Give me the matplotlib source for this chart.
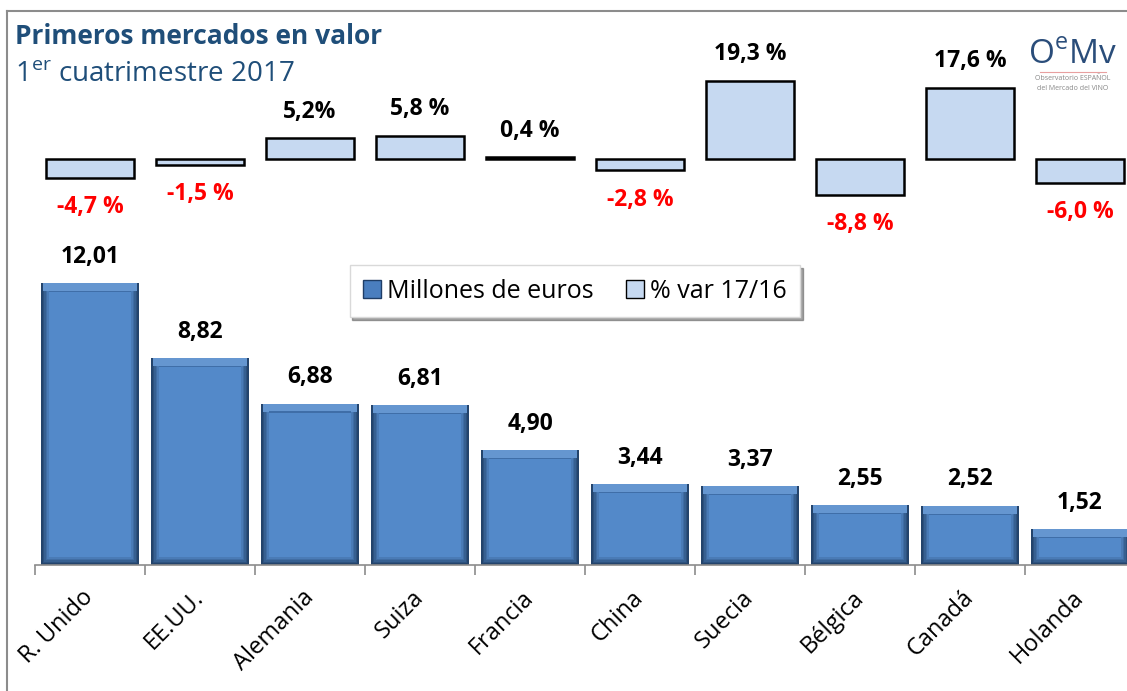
import matplotlib
matplotlib.use("Agg")
import matplotlib.pyplot as plt
from matplotlib.patches import Patch
from matplotlib.lines import Line2D
from matplotlib.colors import to_rgb
import numpy as np

plt.rcParams['font.family'] = ['Open Sans', 'DejaVu Sans']

# datos
paises = ['R. Unido', 'EE.UU.', 'Alemania', 'Suiza', 'Francia',
          'China', 'Suecia', 'Bélgica', 'Canadá', 'Holanda']
millones = [12.01, 8.82, 6.88, 6.81, 4.90, 3.44, 3.37, 2.55, 2.52, 1.52]
millones_txt = ['12,01', '8,82', '6,88', '6,81', '4,90', '3,44', '3,37', '2,55', '2,52', '1,52']
var_pct = [-4.7, -1.5, 5.2, 5.8, 0.4, -2.8, 19.3, -8.8, 17.6, -6.0]
var_txt = ['-4,7 %', '-1,5 %', '5,2%', '5,8 %', '0,4 %', '-2,8 %', '19,3 %', '-8,8 %', '17,6 %', '-6,0 %']

W, H = 1127, 691
fig = plt.figure(figsize=(W / 100, H / 100), dpi=100)
fig.patch.set_facecolor('white')

x = np.arange(len(paises))
left = 35 / W
width = 1100 / W

# --- barras principales (millones de euros) ---
ax = fig.add_axes([left, 126 / H, width, 305 / H])
ax.set_xlim(-0.5, 9.5)
ax.set_ylim(0, 13)

bw = 0.89
px_x = 1 / 110     # un pixel en unidades de x
px_y = 1 / 23.48   # un pixel en unidades de y
vals = np.array(millones)
oscuro = np.array(to_rgb('#24446c'))
cara = np.array(to_rgb('#5389c9'))
capas = 6
for k in range(capas):
    t = k / (capas - 1)
    col = oscuro * (1 - t) + cara * t
    ins = 1.6 * k
    ax.bar(x, vals - 2 * ins * px_y, bottom=ins * px_y, width=bw - 2 * ins * px_x,
           color=col, zorder=2 + k)
# bisel superior mas claro
ax.bar(x, np.full(len(x), 8 * px_y), bottom=vals - 8 * px_y, width=bw - 4 * px_x,
       color='#6596d0', zorder=9)
ax.bar(x, np.full(len(x), 1.2 * px_y), bottom=vals - 9 * px_y, width=bw - 16 * px_x,
       color='#3f6ea8', zorder=9)

for xi, v, t in zip(x, millones, millones_txt):
    ax.annotate(t, (xi, v), xytext=(0, 19), textcoords='offset points',
                ha='center', va='center', fontsize=16.5, fontweight='bold', color='black')

for s in ['left', 'top', 'right']:
    ax.spines[s].set_visible(False)
ax.spines['bottom'].set_color('#8c8c8c')
ax.spines['bottom'].set_linewidth(1.2)
ax.set_yticks([])
ax.set_xticks(x)
ax.set_xticklabels(paises, fontsize=17)
ax.tick_params(axis='x', which='major', length=0, pad=21)
ax.set_xticks(np.arange(-0.5, 10, 1), minor=True)
ax.tick_params(axis='x', which='minor', length=7, color='#8c8c8c', width=1.2)
for lab in ax.get_xticklabels():
    lab.set_rotation(45)
    lab.set_ha('right')
    lab.set_va('center')
    lab.set_rotation_mode('anchor')

# --- barras de variación (%) ---
ax2 = fig.add_axes([left, 491.5 / H, width, 129.6 / H])
ax2.set_xlim(-0.5, 9.5)
ax2.set_ylim(-10, 22)
ax2.axis('off')
ax2.bar(x, var_pct, width=0.8, color='#c6d9f1', edgecolor='black', linewidth=1.8, zorder=2)
for xi, v, t in zip(x, var_pct, var_txt):
    if v >= 0:
        ax2.annotate(t, (xi, v), xytext=(0, 19), textcoords='offset points',
                     ha='center', va='center', fontsize=16.5, fontweight='bold', color='black')
    else:
        ax2.annotate(t, (xi, v), xytext=(0, -21), textcoords='offset points',
                     ha='center', va='center', fontsize=16.5, fontweight='bold', color='#ff0000')

# --- leyenda ---
handles = [Patch(facecolor='#4a7ebf', edgecolor='#1f3d66'),
           Patch(facecolor='#c6d9f1', edgecolor='black')]
fig.legend(handles, ['Millones de euros', '% var 17/16'], loc='center',
           bbox_to_anchor=(575 / W, 1 - 291 / H), ncol=2, fontsize=18,
           frameon=True, fancybox=False, shadow=True, edgecolor='#d9d9d9',
           handlelength=0.7, handleheight=0.7, handletextpad=0.25, columnspacing=1.3,
           borderpad=0.55)

# --- títulos ---
azul = '#1f4e79'
fig.text(15 / W, 1 - 36 / H, 'Primeros mercados en valor', fontsize=19,
         fontweight='bold', color=azul, ha='left', va='center')
fig.text(15 / W, 1 - 75 / H, '1$^{\\mathregular{er}}$ cuatrimestre 2017', fontsize=20,
         color=azul, ha='left', va='center')

# --- logo ---
fig.text(1073 / W, 1 - 55 / H, 'O$^{\\mathregular{e}}$Mv', fontsize=24, color='#2a4d7a',
         ha='center', va='center')
fig.add_artist(Line2D([1040 / W, 1106 / W], [1 - 72 / H, 1 - 72 / H], color='#e8a0a0', lw=0.8))
fig.text(1073 / W, 1 - 79 / H, 'Observatorio ESPAÑOL', fontsize=5, color='#888888',
         ha='center', va='center')
fig.text(1073 / W, 1 - 89 / H, 'del Mercado del VINO', fontsize=5, color='#888888',
         ha='center', va='center')

# --- marco ---
fig.add_artist(Line2D([7 / W, 7 / W], [0, 1 - 11 / H], color='#8c8c8c', lw=1.5))
fig.add_artist(Line2D([7 / W, 1], [1 - 11 / H, 1 - 11 / H], color='#8c8c8c', lw=1.5))

fig.savefig('out.png', dpi=100)
